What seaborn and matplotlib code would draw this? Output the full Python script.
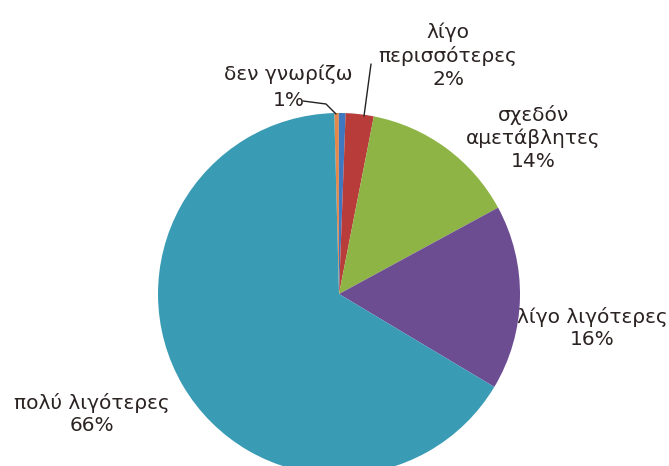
import matplotlib
matplotlib.use('Agg')
import matplotlib.pyplot as plt
import seaborn as sns

# slices, clockwise from the top
labels = ['δεν γνωρίζω', '', 'λίγο\nπερισσότερες', 'σχεδόν\nαμετάβλητες',
          'λίγο λιγότερες', 'πολύ λιγότερες']
pct_text = ['1%', '', '2%', '14%', '16%', '66%']
values = [0.4, 0.6, 2.5, 14.0, 16.5, 66.0]
colors = ['#E5894A', '#3F77C0', '#B73C3A', '#8EB446', '#6D4D92', '#3A9BB5']

sns.set_style('white')
plt.rcParams['font.family'] = ['DejaVu Sans']

fig = plt.figure(figsize=(6.69, 4.66), dpi=100)
W, H = 669, 466
cx, cy, r = 339, 294, 181
ax = fig.add_axes([(cx - r) / W, (H - cy - r) / H, 2 * r / W, 2 * r / H])

wedges, _ = ax.pie(values, colors=colors, startangle=91.5, counterclock=False,
                   wedgeprops=dict(linewidth=0))
ax.set_xlim(-1, 1)
ax.set_ylim(-1, 1)
ax.set_aspect('equal')
ax.axis('off')

txt = dict(fontsize=14.5, color='#2b2222', ha='center', va='center',
           linespacing=1.25)


def px(x, y):
    # pixel position -> data coords of the pie axes
    return (x - cx) / r, (cy - y) / r


# label centres (pixels) for each slice
pos = {2: (448, 56), 3: (533, 138), 4: (592, 328), 5: (92, 414)}

ax.text(*px(288, 74), labels[0], clip_on=False, **txt)
ax.text(*px(289, 101), pct_text[0], clip_on=False, **txt)
for i, (x, y) in pos.items():
    ax.text(*px(x, y), labels[i] + '\n' + pct_text[i], clip_on=False, **txt)

# leader lines
ax.plot(*zip(px(303, 101), px(326, 104), px(336, 114)), color='#222222',
        lw=1, clip_on=False)
ax.plot(*zip(px(371, 64), px(364, 116)), color='#222222', lw=1, clip_on=False)

fig.savefig('out.png', dpi=100)
